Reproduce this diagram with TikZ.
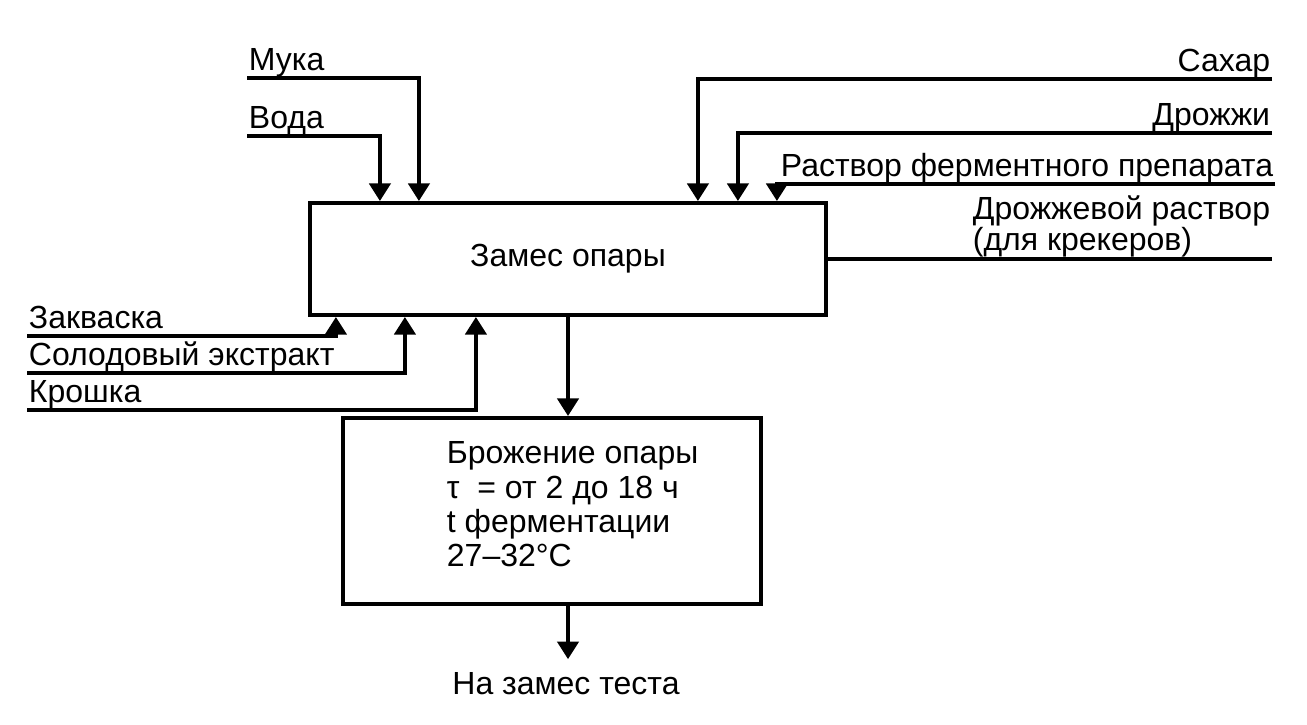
\documentclass[tikz,border=0pt]{standalone}
\usepackage{fontspec}
\setmainfont{Liberation Sans}
\usetikzlibrary{arrows.meta,calc}

\begin{document}
\begin{tikzpicture}[x=0.01cm,y=-0.01cm,line width=1.1pt,
    every node/.style={font=\fontsize{9.1}{9.7}\selectfont},
    box/.style={draw,line width=1.1pt,inner sep=0pt},
    lbl/.style={inner xsep=0pt,inner ysep=1.5pt,text depth=0pt},
    arr/.style={-{Triangle[length=5pt,width=6pt]}}]
    \useasboundingbox (0,0) rectangle (1307,724);

    % Main boxes
    \node[box,minimum width=5.16cm,minimum height=1.12cm] (zames) at (568,259) {Замес опары};
    \node[box,minimum width=4.18cm,minimum height=1.86cm] (brozh) at (552,511) {};
    \node[anchor=north west,inner sep=0pt,align=left] (brozhtxt) at (445,440)
        {Брожение опары\\τ~~= от 2 до 18 ч\\t ферментации\\27–32°C};

    % Inputs from above, left
    \node[lbl,anchor=south west] (muka) at (247,78) {Мука};
    \node[lbl,anchor=south west] (voda) at (247,136) {Вода};
    \draw[arr] (muka.south west) -| ($(zames.north west)+(111,0)$);
    \draw[arr] (voda.south west) -| ($(zames.north west)+(72,0)$);

    % Inputs from above, right
    \node[lbl,anchor=south east] (sahar) at (1272,79) {Сахар};
    \node[lbl,anchor=south east] (drozh) at (1272,133) {Дрожжи};
    \node[lbl,anchor=south east] (rastv) at (1275,184) {Раствор ферментного препарата};
    \draw[arr] (sahar.south east) -| ($(zames.north west)+(390,0)$);
    \draw[arr] (drozh.south east) -| ($(zames.north west)+(430,0)$);
    \draw[arr] (rastv.south east) -| ($(zames.north west)+(469,0)$);

    % Output to the right
    \node[lbl,anchor=south east,align=left,font=\fontsize{9.1}{8.8}\selectfont] (drrast) at (1272,258)
        {Дрожжевой раствор\\(для крекеров)};
    \draw (zames.east) -- (zames.east -| drrast.south east);

    % Inputs from below
    \node[lbl,anchor=south west] (zakv) at (27,336) {Закваска};
    \node[lbl,anchor=south west] (solod) at (27,373) {Солодовый экстракт};
    \node[lbl,anchor=south west] (kroshka) at (27,410) {Крошка};
    \draw[arr] (zakv.south west) -| ($(zames.south west)+(28,0)$);
    \draw[arr] (solod.south west) -| ($(zames.south west)+(97,0)$);
    \draw[arr] (kroshka.south west) -| ($(zames.south west)+(168,0)$);

    % Down the chain
    \draw[arr] (zames.south) -- (zames.south |- brozh.north);
    \node (out) at (566,684) {На замес теста};
    \draw[arr] (zames.south |- brozh.south) -- (zames.south |- out.north);
\end{tikzpicture}
\end{document}
